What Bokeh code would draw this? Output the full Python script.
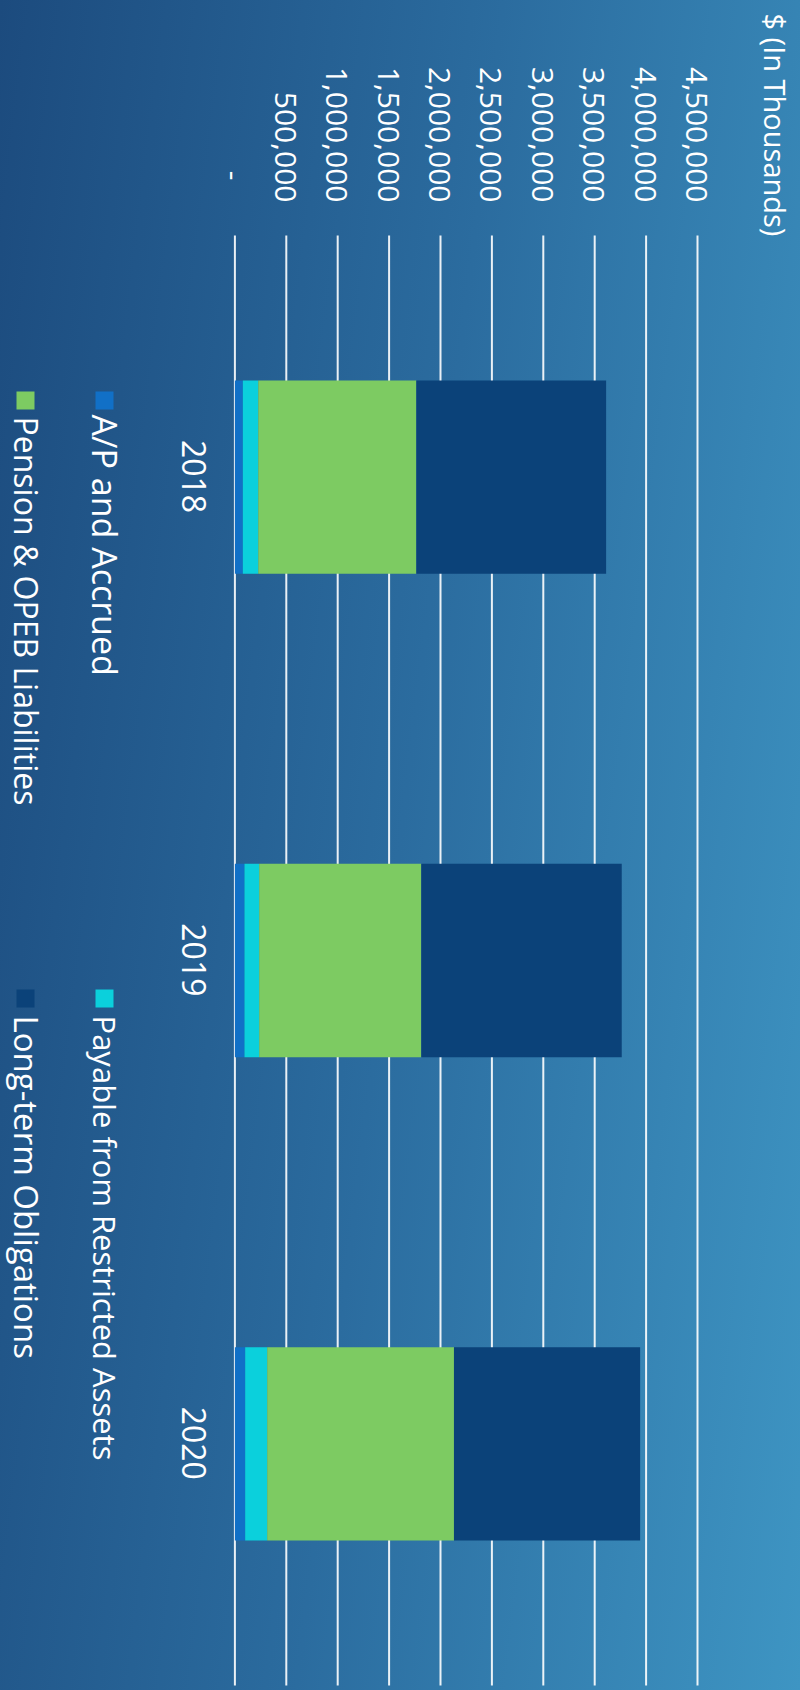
import math
from bokeh.plotting import figure
from bokeh.models import (ColumnDataSource, Range1d, FixedTicker,
                          NumeralTickFormatter, Label, BoxAnnotation)
from bokeh.embed import file_html
from bokeh.resources import INLINE

# ---- data (in thousands of $) ----
years = ["2018", "2019", "2020"]
ap_accrued = [77000, 93000, 100000]
payable_restricted = [150000, 143000, 214000]
pension_opeb = [1538000, 1577000, 1817000]
long_term = [1846000, 1950000, 1811000]

series_keys = ["ap", "payable", "pension", "longterm"]
series_names = ["A/P and Accrued", "Payable from Restricted Assets",
                "Pension & OPEB Liabilities", "Long-term Obligations"]
series_colors = ["#1170c7", "#0bd0dc", "#7dcb62", "#0b4279"]
value_ticks = [0, 500000, 1000000, 1500000, 2000000, 2500000,
               3000000, 3500000, 4000000, 4500000]
axis_title = "$ (In Thousands)"

FONT = "Open Sans"
W, H = 800, 1690

# layout: the frame covers the whole canvas; the plot area sits inside it
ZERO_PX, MAX_PX = 234.4, 697.0          # x pixel of 0 and of the last tick
BAND_TOP_PX, BAND_BOTTOM_PX = 235.0, 1685.0
n = len(years)
kx = (MAX_PX - ZERO_PX) / value_ticks[-1]
ky = (BAND_BOTTOM_PX - BAND_TOP_PX) / n
x_start, x_end = -ZERO_PX / kx, (W - ZERO_PX) / kx
y_top, y_bottom = -BAND_TOP_PX / ky, n + (H - BAND_BOTTOM_PX) / ky

ypos = [i + 0.5 for i in range(n)]
source = ColumnDataSource(dict(y=ypos, ap=ap_accrued, payable=payable_restricted,
                               pension=pension_opeb, longterm=long_term))

p = figure(width=W, height=H, output_backend="svg", toolbar_location=None,
           x_range=Range1d(x_start, x_end), y_range=Range1d(y_bottom, y_top),
           x_axis_location="above", min_border=0)

p.styles = {"background": "linear-gradient(97deg, #1c4b7e 0%, #2b6c9f 50%, #3e95c3 100%)"}
p.background_fill_color = None
p.border_fill_color = None
p.outline_line_color = None
p.xgrid.grid_line_color = None
p.ygrid.grid_line_color = None

# vertical grid lines across the category bands
p.segment(x0=value_ticks, x1=value_ticks, y0=[0] * len(value_ticks),
          y1=[n] * len(value_ticks), line_color="white", line_width=2, line_alpha=0.9)

p.hbar_stack(series_keys, y="y", height=0.4, color=series_colors,
             line_color=None, source=source)

# value axis (above), drawn at the top of the bands
xa = p.xaxis[0]
xa.fixed_location = 0
xa.ticker = FixedTicker(ticks=value_ticks)
xa.formatter = NumeralTickFormatter(format="0,0")
xa.major_label_overrides = {0: "-\u2007\u2009"}
xa.major_label_orientation = -math.pi / 2
xa.major_label_text_font = FONT
xa.major_label_text_font_size = "30px"
xa.major_label_text_color = "white"
xa.major_label_standoff = 27
xa.axis_line_color = None
xa.major_tick_line_color = None
xa.minor_tick_line_color = None

# category axis (left), drawn at x = 0; labels are right-aligned at the tick,
# so the tick is moved down by half a label length to centre the text on its bar
shift = 0.0745
cat_ticks = [y + shift for y in ypos]
ya = p.yaxis[0]
ya.fixed_location = 0
ya.ticker = FixedTicker(ticks=cat_ticks)
ya.major_label_overrides = {t: yr for t, yr in zip(cat_ticks, years)}
ya.major_label_orientation = -math.pi / 2
ya.major_label_text_font = FONT
ya.major_label_text_font_size = "32px"
ya.major_label_text_color = "white"
ya.major_label_standoff = 35
ya.axis_line_color = None
ya.major_tick_line_color = None
ya.minor_tick_line_color = None

def sy(y):
    return H - y

# axis title, rotated, top-right corner
p.add_layout(Label(x=775, y=sy(13), x_units="screen", y_units="screen",
                   text=axis_title, angle=-math.pi / 2, text_color="white",
                   text_font=FONT, text_font_size="29px",
                   text_align="left", text_baseline="alphabetic"))

# legend (rotated)
legend_pos = [  # (marker left x, marker top y, text x, text start y, font px)
    (95, 391, 104, 414, 34),
    (95, 989, 104, 1015, 31),
    (16, 391, 26, 416, 32),
    (16, 989, 26, 1015, 33),
]
for i, (mx, my, tx, ty, fs) in enumerate(legend_pos):
    p.add_layout(BoxAnnotation(left=mx, right=mx + 18, top=sy(my), bottom=sy(my + 18),
                               left_units="screen", right_units="screen",
                               top_units="screen", bottom_units="screen",
                               fill_color=series_colors[i], fill_alpha=1.0, line_color=None))
    p.add_layout(Label(x=tx, y=sy(ty), x_units="screen", y_units="screen",
                       text=series_names[i], angle=-math.pi / 2, text_color="white",
                       text_font=FONT, text_font_size=f"{fs}px",
                       text_align="left", text_baseline="alphabetic"))

open("out.html", "w").write(file_html(p, INLINE))
